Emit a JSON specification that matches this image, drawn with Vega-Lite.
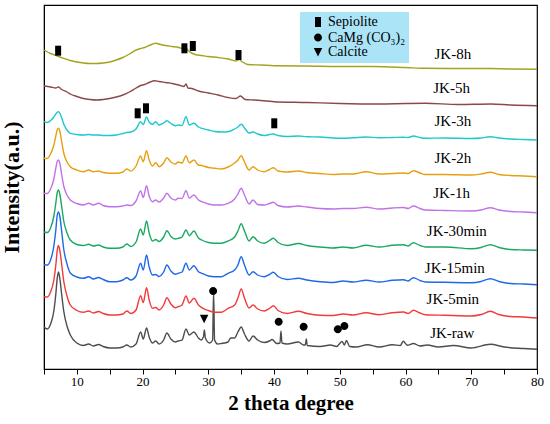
{
"$schema":"https://vega.github.io/schema/vega-lite/v6.json",
"autosize":"none",
"width":493,"height":364,
"padding":{"left":44,"top":5,"right":13,"bottom":55},
"background":"white",
"datasets":{
"traces":[
{"s":"raw","x":5,"y":42},{"s":"raw","x":5.5,"y":40},{"s":"raw","x":6,"y":45},{"s":"raw","x":6.5,"y":58},{"s":"raw","x":6.8,"y":75},{"s":"raw","x":7.0,"y":90},{"s":"raw","x":7.2,"y":97},{"s":"raw","x":7.4,"y":91},{"s":"raw","x":7.7,"y":74},{"s":"raw","x":8.0,"y":58},{"s":"raw","x":8.5,"y":43},{"s":"raw","x":9,"y":34},{"s":"raw","x":10,"y":26},{"s":"raw","x":11,"y":23.5},{"s":"raw","x":11.8,"y":25},{"s":"raw","x":12.5,"y":23},{"s":"raw","x":13.3,"y":24.5},{"s":"raw","x":14,"y":22.5},{"s":"raw","x":15,"y":21},{"s":"raw","x":16,"y":21},{"s":"raw","x":17,"y":22},{"s":"raw","x":17.6,"y":24},{"s":"raw","x":18.2,"y":22},{"s":"raw","x":19,"y":25},{"s":"raw","x":19.7,"y":37},{"s":"raw","x":20.1,"y":30},{"s":"raw","x":20.6,"y":41},{"s":"raw","x":21.0,"y":32},{"s":"raw","x":21.5,"y":26},{"s":"raw","x":22,"y":28},{"s":"raw","x":22.5,"y":25},{"s":"raw","x":23.2,"y":29},{"s":"raw","x":23.7,"y":36},{"s":"raw","x":24.3,"y":30},{"s":"raw","x":25,"y":27},{"s":"raw","x":25.4,"y":28},{"s":"raw","x":26,"y":29},{"s":"raw","x":26.6,"y":40},{"s":"raw","x":27.1,"y":34},{"s":"raw","x":27.8,"y":37},{"s":"raw","x":28.5,"y":31},{"s":"raw","x":28.9,"y":29},{"s":"raw","x":29.25,"y":32},{"s":"raw","x":29.4,"y":39},{"s":"raw","x":29.55,"y":31},{"s":"raw","x":30.2,"y":26},{"s":"raw","x":30.65,"y":29},{"s":"raw","x":30.8,"y":77},{"s":"raw","x":30.95,"y":29},{"s":"raw","x":31.4,"y":25},{"s":"raw","x":32,"y":25.5},{"s":"raw","x":33,"y":27},{"s":"raw","x":33.4,"y":31},{"s":"raw","x":34,"y":31},{"s":"raw","x":34.5,"y":37},{"s":"raw","x":35,"y":42},{"s":"raw","x":35.5,"y":35},{"s":"raw","x":36.2,"y":28},{"s":"raw","x":36.8,"y":33},{"s":"raw","x":37.5,"y":29},{"s":"raw","x":38.5,"y":26.5},{"s":"raw","x":39.3,"y":28},{"s":"raw","x":39.7,"y":29.5},{"s":"raw","x":40.4,"y":25.5},{"s":"raw","x":40.9,"y":26},{"s":"raw","x":41.05,"y":38},{"s":"raw","x":41.2,"y":26},{"s":"raw","x":42,"y":25},{"s":"raw","x":43.7,"y":27},{"s":"raw","x":44.5,"y":24},{"s":"raw","x":44.75,"y":24},{"s":"raw","x":44.9,"y":30},{"s":"raw","x":45.05,"y":23.5},{"s":"raw","x":47,"y":22.5},{"s":"raw","x":48.6,"y":24},{"s":"raw","x":49.5,"y":22.5},{"s":"raw","x":50.35,"y":27.5},{"s":"raw","x":50.7,"y":24},{"s":"raw","x":51.0,"y":28.5},{"s":"raw","x":51.5,"y":22.5},{"s":"raw","x":52.5,"y":22},{"s":"raw","x":54.2,"y":24.3},{"s":"raw","x":56,"y":22},{"s":"raw","x":58,"y":24.3},{"s":"raw","x":59.2,"y":23.5},{"s":"raw","x":59.65,"y":27.7},{"s":"raw","x":60.3,"y":23.7},{"s":"raw","x":61.2,"y":25.5},{"s":"raw","x":62.2,"y":23},{"s":"raw","x":63.3,"y":24},{"s":"raw","x":65,"y":22},{"s":"raw","x":67.3,"y":23.5},{"s":"raw","x":70,"y":21},{"s":"raw","x":72.9,"y":24.7},{"s":"raw","x":75,"y":22},{"s":"raw","x":78,"y":20.5},{"s":"raw","x":80,"y":19.7},

{"s":"5min","x":5,"y":72},{"s":"5min","x":5.5,"y":72},{"s":"5min","x":6,"y":77},{"s":"5min","x":6.5,"y":89},{"s":"5min","x":6.8,"y":104},{"s":"5min","x":7.0,"y":118},{"s":"5min","x":7.2,"y":123.5},{"s":"5min","x":7.4,"y":119},{"s":"5min","x":7.7,"y":104},{"s":"5min","x":8.0,"y":88},{"s":"5min","x":8.5,"y":73},{"s":"5min","x":9,"y":64},{"s":"5min","x":10,"y":58.5},{"s":"5min","x":11,"y":56.7},{"s":"5min","x":11.8,"y":58},{"s":"5min","x":12.5,"y":56},{"s":"5min","x":13.3,"y":57.5},{"s":"5min","x":14,"y":55.5},{"s":"5min","x":15,"y":54},{"s":"5min","x":16,"y":54},{"s":"5min","x":17,"y":55},{"s":"5min","x":17.6,"y":58},{"s":"5min","x":18.2,"y":55.5},{"s":"5min","x":19,"y":59},{"s":"5min","x":19.7,"y":73.3},{"s":"5min","x":20.1,"y":66.5},{"s":"5min","x":20.6,"y":81.3},{"s":"5min","x":21.0,"y":69},{"s":"5min","x":21.5,"y":60.7},{"s":"5min","x":22,"y":61.5},{"s":"5min","x":22.5,"y":59},{"s":"5min","x":23.2,"y":64},{"s":"5min","x":23.7,"y":71.3},{"s":"5min","x":24.3,"y":65},{"s":"5min","x":25,"y":61.3},{"s":"5min","x":25.4,"y":62.3},{"s":"5min","x":26,"y":64},{"s":"5min","x":26.6,"y":73},{"s":"5min","x":27.1,"y":66},{"s":"5min","x":27.8,"y":70.7},{"s":"5min","x":28.5,"y":64},{"s":"5min","x":29,"y":61.3},{"s":"5min","x":30,"y":58.5},{"s":"5min","x":31,"y":56.7},{"s":"5min","x":32,"y":56.7},{"s":"5min","x":33,"y":60.7},{"s":"5min","x":34,"y":64},{"s":"5min","x":34.5,"y":71},{"s":"5min","x":35,"y":80},{"s":"5min","x":35.5,"y":71},{"s":"5min","x":36.2,"y":61},{"s":"5min","x":36.8,"y":64},{"s":"5min","x":37.5,"y":60},{"s":"5min","x":38.5,"y":58},{"s":"5min","x":39.3,"y":60.5},{"s":"5min","x":39.9,"y":63.3},{"s":"5min","x":40.6,"y":58.5},{"s":"5min","x":42,"y":55.5},{"s":"5min","x":43.7,"y":57.7},{"s":"5min","x":45,"y":55.5},{"s":"5min","x":47,"y":53.7},{"s":"5min","x":49,"y":53.5},{"s":"5min","x":50.5,"y":55},{"s":"5min","x":52,"y":54},{"s":"5min","x":54,"y":56.3},{"s":"5min","x":56,"y":54.3},{"s":"5min","x":58,"y":56.3},{"s":"5min","x":59.7,"y":57},{"s":"5min","x":60.4,"y":55.5},{"s":"5min","x":61.2,"y":58.7},{"s":"5min","x":62.2,"y":56},{"s":"5min","x":63,"y":54.3},{"s":"5min","x":66,"y":53.7},{"s":"5min","x":70,"y":53},{"s":"5min","x":71.5,"y":54.5},{"s":"5min","x":72.9,"y":57.7},{"s":"5min","x":74.2,"y":54.5},{"s":"5min","x":76,"y":52.5},{"s":"5min","x":78,"y":52},{"s":"5min","x":80,"y":51},

{"s":"15min","x":5,"y":104},{"s":"15min","x":5.5,"y":104},{"s":"15min","x":6,"y":109},{"s":"15min","x":6.5,"y":123},{"s":"15min","x":6.8,"y":139},{"s":"15min","x":7.0,"y":153},{"s":"15min","x":7.2,"y":157},{"s":"15min","x":7.4,"y":153},{"s":"15min","x":7.7,"y":137},{"s":"15min","x":8.0,"y":120},{"s":"15min","x":8.5,"y":105},{"s":"15min","x":9,"y":96},{"s":"15min","x":10,"y":92},{"s":"15min","x":11,"y":90.7},{"s":"15min","x":11.8,"y":92.3},{"s":"15min","x":12.5,"y":90},{"s":"15min","x":13.3,"y":91.5},{"s":"15min","x":14,"y":89.5},{"s":"15min","x":15,"y":87.3},{"s":"15min","x":16,"y":87.3},{"s":"15min","x":17,"y":89},{"s":"15min","x":17.6,"y":91.3},{"s":"15min","x":18.2,"y":89},{"s":"15min","x":19,"y":93},{"s":"15min","x":19.7,"y":105.7},{"s":"15min","x":20.1,"y":99},{"s":"15min","x":20.6,"y":114},{"s":"15min","x":21.0,"y":102},{"s":"15min","x":21.5,"y":94},{"s":"15min","x":22,"y":94.5},{"s":"15min","x":22.5,"y":92.5},{"s":"15min","x":23.2,"y":97},{"s":"15min","x":23.7,"y":104},{"s":"15min","x":24.3,"y":98},{"s":"15min","x":25,"y":94.7},{"s":"15min","x":25.4,"y":95.7},{"s":"15min","x":26,"y":97},{"s":"15min","x":26.6,"y":105.7},{"s":"15min","x":27.1,"y":99},{"s":"15min","x":27.8,"y":103.3},{"s":"15min","x":28.5,"y":97.3},{"s":"15min","x":29,"y":95.7},{"s":"15min","x":30,"y":93},{"s":"15min","x":31,"y":92.3},{"s":"15min","x":32,"y":92.3},{"s":"15min","x":33,"y":95.7},{"s":"15min","x":34,"y":99},{"s":"15min","x":34.5,"y":104},{"s":"15min","x":35,"y":112.3},{"s":"15min","x":35.5,"y":104},{"s":"15min","x":36.2,"y":94},{"s":"15min","x":36.8,"y":97.3},{"s":"15min","x":37.5,"y":94},{"s":"15min","x":38.5,"y":92.3},{"s":"15min","x":39.3,"y":94.5},{"s":"15min","x":39.9,"y":96.7},{"s":"15min","x":40.6,"y":92.5},{"s":"15min","x":42,"y":89.5},{"s":"15min","x":43.7,"y":90.7},{"s":"15min","x":45,"y":89},{"s":"15min","x":47,"y":87.3},{"s":"15min","x":49,"y":86.5},{"s":"15min","x":50.5,"y":88},{"s":"15min","x":52,"y":87},{"s":"15min","x":54,"y":88.7},{"s":"15min","x":56,"y":87},{"s":"15min","x":58,"y":88.7},{"s":"15min","x":59.7,"y":89.3},{"s":"15min","x":60.4,"y":88},{"s":"15min","x":61.2,"y":91.3},{"s":"15min","x":62.2,"y":88.5},{"s":"15min","x":63,"y":87},{"s":"15min","x":66,"y":86.7},{"s":"15min","x":70,"y":86.3},{"s":"15min","x":71.5,"y":87.5},{"s":"15min","x":72.9,"y":90.3},{"s":"15min","x":74.2,"y":87.5},{"s":"15min","x":76,"y":85.5},{"s":"15min","x":78,"y":85},{"s":"15min","x":80,"y":84.3},

{"s":"30min","x":5,"y":137},{"s":"30min","x":5.5,"y":136.5},{"s":"30min","x":6,"y":141},{"s":"30min","x":6.5,"y":153},{"s":"30min","x":6.8,"y":166},{"s":"30min","x":7.0,"y":176},{"s":"30min","x":7.2,"y":179},{"s":"30min","x":7.4,"y":175},{"s":"30min","x":7.7,"y":162},{"s":"30min","x":8.0,"y":148},{"s":"30min","x":8.5,"y":136},{"s":"30min","x":9,"y":129},{"s":"30min","x":10,"y":124.5},{"s":"30min","x":11,"y":123.5},{"s":"30min","x":11.8,"y":124.7},{"s":"30min","x":12.5,"y":123},{"s":"30min","x":13.3,"y":124},{"s":"30min","x":14,"y":122},{"s":"30min","x":15,"y":120.7},{"s":"30min","x":16,"y":120.7},{"s":"30min","x":17,"y":122},{"s":"30min","x":17.6,"y":125},{"s":"30min","x":18.2,"y":122.5},{"s":"30min","x":19,"y":127},{"s":"30min","x":19.7,"y":140},{"s":"30min","x":20.1,"y":134},{"s":"30min","x":20.6,"y":148},{"s":"30min","x":21.0,"y":136},{"s":"30min","x":21.5,"y":128},{"s":"30min","x":22,"y":129.5},{"s":"30min","x":22.5,"y":127.5},{"s":"30min","x":23.2,"y":132},{"s":"30min","x":23.7,"y":138.3},{"s":"30min","x":24.3,"y":132.5},{"s":"30min","x":25,"y":130},{"s":"30min","x":25.4,"y":130.7},{"s":"30min","x":26,"y":132},{"s":"30min","x":26.6,"y":139},{"s":"30min","x":27.1,"y":133.3},{"s":"30min","x":27.8,"y":138},{"s":"30min","x":28.5,"y":131},{"s":"30min","x":29,"y":129},{"s":"30min","x":30,"y":126.5},{"s":"30min","x":31,"y":125.7},{"s":"30min","x":32,"y":125.7},{"s":"30min","x":33,"y":128},{"s":"30min","x":34,"y":132},{"s":"30min","x":34.5,"y":138},{"s":"30min","x":35,"y":145.3},{"s":"30min","x":35.5,"y":138},{"s":"30min","x":36.2,"y":128},{"s":"30min","x":36.8,"y":132.3},{"s":"30min","x":37.5,"y":128},{"s":"30min","x":38.5,"y":125.7},{"s":"30min","x":39.3,"y":128.5},{"s":"30min","x":39.9,"y":130.7},{"s":"30min","x":40.6,"y":126.5},{"s":"30min","x":42,"y":123.5},{"s":"30min","x":43.7,"y":125.5},{"s":"30min","x":45,"y":123.5},{"s":"30min","x":47,"y":122},{"s":"30min","x":49,"y":121},{"s":"30min","x":50.5,"y":122},{"s":"30min","x":52,"y":121},{"s":"30min","x":54,"y":123.7},{"s":"30min","x":56,"y":122},{"s":"30min","x":58,"y":123.7},{"s":"30min","x":59.7,"y":124.3},{"s":"30min","x":60.4,"y":123},{"s":"30min","x":61.2,"y":126.3},{"s":"30min","x":62.2,"y":123.5},{"s":"30min","x":63,"y":122},{"s":"30min","x":66,"y":122},{"s":"30min","x":70,"y":120.3},{"s":"30min","x":71.5,"y":121.5},{"s":"30min","x":72.9,"y":124.3},{"s":"30min","x":74.2,"y":121.5},{"s":"30min","x":76,"y":119.5},{"s":"30min","x":78,"y":119},{"s":"30min","x":80,"y":118.7},

{"s":"1h","x":5,"y":175.7},{"s":"1h","x":5.5,"y":175.5},{"s":"1h","x":6,"y":180},{"s":"1h","x":6.5,"y":190},{"s":"1h","x":6.8,"y":201},{"s":"1h","x":7.0,"y":207.5},{"s":"1h","x":7.2,"y":209},{"s":"1h","x":7.4,"y":206},{"s":"1h","x":7.7,"y":194},{"s":"1h","x":8.0,"y":183},{"s":"1h","x":8.5,"y":174},{"s":"1h","x":9,"y":169},{"s":"1h","x":10,"y":165.5},{"s":"1h","x":11,"y":164},{"s":"1h","x":11.8,"y":165.7},{"s":"1h","x":12.5,"y":164},{"s":"1h","x":13.3,"y":165.7},{"s":"1h","x":14,"y":163.5},{"s":"1h","x":15,"y":162.3},{"s":"1h","x":16,"y":162.3},{"s":"1h","x":17,"y":163},{"s":"1h","x":17.6,"y":164},{"s":"1h","x":18.2,"y":163.5},{"s":"1h","x":19,"y":168},{"s":"1h","x":19.7,"y":178},{"s":"1h","x":20.1,"y":171.5},{"s":"1h","x":20.6,"y":183.3},{"s":"1h","x":21.0,"y":173},{"s":"1h","x":21.5,"y":167.3},{"s":"1h","x":22,"y":169},{"s":"1h","x":22.5,"y":167},{"s":"1h","x":23.2,"y":171},{"s":"1h","x":23.7,"y":175.7},{"s":"1h","x":24.3,"y":171},{"s":"1h","x":25,"y":169},{"s":"1h","x":25.4,"y":170.7},{"s":"1h","x":26,"y":170.5},{"s":"1h","x":26.6,"y":178.3},{"s":"1h","x":27.1,"y":171},{"s":"1h","x":27.8,"y":174},{"s":"1h","x":28.5,"y":169},{"s":"1h","x":29,"y":167.3},{"s":"1h","x":30,"y":165},{"s":"1h","x":31,"y":164},{"s":"1h","x":32,"y":164},{"s":"1h","x":33,"y":165.7},{"s":"1h","x":34,"y":170},{"s":"1h","x":34.5,"y":175},{"s":"1h","x":35,"y":180.7},{"s":"1h","x":35.5,"y":174},{"s":"1h","x":36.2,"y":165},{"s":"1h","x":36.8,"y":169},{"s":"1h","x":37.5,"y":164.5},{"s":"1h","x":38.5,"y":164},{"s":"1h","x":39.3,"y":165.5},{"s":"1h","x":39.9,"y":166.7},{"s":"1h","x":40.6,"y":163.5},{"s":"1h","x":42,"y":162},{"s":"1h","x":43.7,"y":163},{"s":"1h","x":45,"y":162},{"s":"1h","x":47,"y":160.5},{"s":"1h","x":49,"y":160},{"s":"1h","x":50.5,"y":160.5},{"s":"1h","x":52,"y":160.5},{"s":"1h","x":54,"y":161.7},{"s":"1h","x":56,"y":160},{"s":"1h","x":58,"y":161},{"s":"1h","x":59.7,"y":161.5},{"s":"1h","x":60.4,"y":160.5},{"s":"1h","x":61.2,"y":163},{"s":"1h","x":62.2,"y":160.5},{"s":"1h","x":63,"y":159},{"s":"1h","x":66,"y":158.5},{"s":"1h","x":70,"y":158},{"s":"1h","x":71.5,"y":159},{"s":"1h","x":72.9,"y":161.3},{"s":"1h","x":74.2,"y":159},{"s":"1h","x":76,"y":157.5},{"s":"1h","x":78,"y":157},{"s":"1h","x":80,"y":156.3},

{"s":"2h","x":5,"y":210.7},{"s":"2h","x":5.5,"y":210.5},{"s":"2h","x":6,"y":215},{"s":"2h","x":6.5,"y":224},{"s":"2h","x":6.8,"y":233},{"s":"2h","x":7.0,"y":239},{"s":"2h","x":7.2,"y":240.7},{"s":"2h","x":7.4,"y":238},{"s":"2h","x":7.7,"y":227},{"s":"2h","x":8.0,"y":216},{"s":"2h","x":8.5,"y":207},{"s":"2h","x":9,"y":202.3},{"s":"2h","x":10,"y":199},{"s":"2h","x":11,"y":197.3},{"s":"2h","x":11.8,"y":199},{"s":"2h","x":12.5,"y":197.3},{"s":"2h","x":13.3,"y":198},{"s":"2h","x":14,"y":196.5},{"s":"2h","x":15,"y":195.7},{"s":"2h","x":16,"y":195.7},{"s":"2h","x":17,"y":197},{"s":"2h","x":17.6,"y":200},{"s":"2h","x":18.2,"y":198},{"s":"2h","x":19,"y":203},{"s":"2h","x":19.7,"y":213},{"s":"2h","x":20.1,"y":207.3},{"s":"2h","x":20.6,"y":218.3},{"s":"2h","x":21.0,"y":209},{"s":"2h","x":21.5,"y":203},{"s":"2h","x":22,"y":206.3},{"s":"2h","x":22.5,"y":202.3},{"s":"2h","x":23.2,"y":206},{"s":"2h","x":23.7,"y":211.3},{"s":"2h","x":24.3,"y":207},{"s":"2h","x":25,"y":205},{"s":"2h","x":25.4,"y":207},{"s":"2h","x":26,"y":206},{"s":"2h","x":26.6,"y":213},{"s":"2h","x":27.1,"y":206.3},{"s":"2h","x":27.8,"y":209},{"s":"2h","x":28.5,"y":204},{"s":"2h","x":29,"y":203.5},{"s":"2h","x":30,"y":201.5},{"s":"2h","x":31,"y":200.7},{"s":"2h","x":32,"y":200},{"s":"2h","x":33,"y":202},{"s":"2h","x":34,"y":206},{"s":"2h","x":34.5,"y":209},{"s":"2h","x":35,"y":213.3},{"s":"2h","x":35.5,"y":207},{"s":"2h","x":36.2,"y":199},{"s":"2h","x":36.8,"y":202.3},{"s":"2h","x":37.5,"y":199},{"s":"2h","x":38.5,"y":197.3},{"s":"2h","x":39.3,"y":199.5},{"s":"2h","x":39.9,"y":201.3},{"s":"2h","x":40.6,"y":198},{"s":"2h","x":42,"y":197},{"s":"2h","x":43.7,"y":198},{"s":"2h","x":45,"y":196.5},{"s":"2h","x":47,"y":195.5},{"s":"2h","x":49,"y":194.5},{"s":"2h","x":50.5,"y":195},{"s":"2h","x":52,"y":195},{"s":"2h","x":54,"y":197.3},{"s":"2h","x":56,"y":195},{"s":"2h","x":58,"y":195.5},{"s":"2h","x":59.7,"y":196},{"s":"2h","x":60.4,"y":195.5},{"s":"2h","x":61.2,"y":198.3},{"s":"2h","x":62.2,"y":196},{"s":"2h","x":63,"y":194.5},{"s":"2h","x":66,"y":194.5},{"s":"2h","x":70,"y":194},{"s":"2h","x":71.5,"y":195},{"s":"2h","x":72.9,"y":196.7},{"s":"2h","x":74.2,"y":194.5},{"s":"2h","x":76,"y":193.5},{"s":"2h","x":78,"y":193},{"s":"2h","x":80,"y":192.3},

{"s":"3h","x":5,"y":247.3},{"s":"3h","x":5.5,"y":246.5},{"s":"3h","x":6,"y":248.5},{"s":"3h","x":6.5,"y":252},{"s":"3h","x":6.8,"y":255},{"s":"3h","x":7.0,"y":256.7},{"s":"3h","x":7.2,"y":257.3},{"s":"3h","x":7.4,"y":256},{"s":"3h","x":7.7,"y":251},{"s":"3h","x":8.0,"y":245},{"s":"3h","x":8.5,"y":239},{"s":"3h","x":9,"y":235.7},{"s":"3h","x":10,"y":234.5},{"s":"3h","x":11,"y":234},{"s":"3h","x":11.8,"y":234.5},{"s":"3h","x":12.5,"y":234},{"s":"3h","x":13.3,"y":234},{"s":"3h","x":14,"y":233.5},{"s":"3h","x":15,"y":233.5},{"s":"3h","x":16,"y":234},{"s":"3h","x":17,"y":235.5},{"s":"3h","x":17.6,"y":236.5},{"s":"3h","x":18.2,"y":237},{"s":"3h","x":19,"y":240},{"s":"3h","x":19.7,"y":247.3},{"s":"3h","x":20.1,"y":244.5},{"s":"3h","x":20.6,"y":252},{"s":"3h","x":21.0,"y":247},{"s":"3h","x":21.5,"y":244.7},{"s":"3h","x":22,"y":247.3},{"s":"3h","x":22.5,"y":244},{"s":"3h","x":23.2,"y":246},{"s":"3h","x":23.7,"y":248.3},{"s":"3h","x":24.3,"y":245.5},{"s":"3h","x":25,"y":243.3},{"s":"3h","x":25.4,"y":244},{"s":"3h","x":26,"y":243.5},{"s":"3h","x":26.6,"y":252.3},{"s":"3h","x":27.1,"y":244},{"s":"3h","x":27.8,"y":245.7},{"s":"3h","x":28.5,"y":242},{"s":"3h","x":29,"y":240.7},{"s":"3h","x":30,"y":239},{"s":"3h","x":31,"y":237.5},{"s":"3h","x":32,"y":237},{"s":"3h","x":33,"y":237.3},{"s":"3h","x":34,"y":240},{"s":"3h","x":34.5,"y":242},{"s":"3h","x":35,"y":244.7},{"s":"3h","x":35.5,"y":241},{"s":"3h","x":36.2,"y":236},{"s":"3h","x":36.8,"y":237},{"s":"3h","x":37.5,"y":235},{"s":"3h","x":38.5,"y":233.5},{"s":"3h","x":39.3,"y":234.5},{"s":"3h","x":39.9,"y":235},{"s":"3h","x":40.6,"y":233.5},{"s":"3h","x":42,"y":232.5},{"s":"3h","x":43.7,"y":233},{"s":"3h","x":45,"y":232.3},{"s":"3h","x":47,"y":232},{"s":"3h","x":49,"y":231},{"s":"3h","x":50.5,"y":230.7},{"s":"3h","x":52,"y":231.2},{"s":"3h","x":54,"y":232},{"s":"3h","x":56,"y":231.3},{"s":"3h","x":58,"y":231.5},{"s":"3h","x":59.7,"y":231.7},{"s":"3h","x":60.4,"y":231.5},{"s":"3h","x":61.2,"y":233},{"s":"3h","x":62.2,"y":231.5},{"s":"3h","x":63,"y":230.7},{"s":"3h","x":66,"y":231},{"s":"3h","x":70,"y":230.5},{"s":"3h","x":71.5,"y":231},{"s":"3h","x":72.9,"y":232.3},{"s":"3h","x":74.2,"y":231},{"s":"3h","x":76,"y":230},{"s":"3h","x":78,"y":229.5},{"s":"3h","x":80,"y":229},

{"s":"5h","x":5,"y":283},{"s":"5h","x":6,"y":282},{"s":"5h","x":6.8,"y":281},{"s":"5h","x":7.2,"y":282},{"s":"5h","x":7.7,"y":279.5},{"s":"5h","x":8.5,"y":277},{"s":"5h","x":9,"y":275},{"s":"5h","x":10,"y":272.5},{"s":"5h","x":11,"y":270.5},{"s":"5h","x":12,"y":269.5},{"s":"5h","x":13,"y":269},{"s":"5h","x":14,"y":269.5},{"s":"5h","x":15,"y":270.5},{"s":"5h","x":16,"y":272},{"s":"5h","x":17,"y":274},{"s":"5h","x":18,"y":277},{"s":"5h","x":19,"y":281},{"s":"5h","x":19.7,"y":283.5},{"s":"5h","x":20.3,"y":284.5},{"s":"5h","x":21,"y":286.5},{"s":"5h","x":21.8,"y":288.3},{"s":"5h","x":22.5,"y":287.5},{"s":"5h","x":23.5,"y":286.5},{"s":"5h","x":24.5,"y":285.5},{"s":"5h","x":25.5,"y":284},{"s":"5h","x":26.3,"y":282.5},{"s":"5h","x":26.6,"y":285},{"s":"5h","x":26.9,"y":281},{"s":"5h","x":27.5,"y":280.5},{"s":"5h","x":28.5,"y":278},{"s":"5h","x":30,"y":276},{"s":"5h","x":31.5,"y":274},{"s":"5h","x":33,"y":271.5},{"s":"5h","x":34.2,"y":270.5},{"s":"5h","x":34.9,"y":273},{"s":"5h","x":35.6,"y":269.5},{"s":"5h","x":37,"y":269},{"s":"5h","x":40,"y":267.3},{"s":"5h","x":45,"y":266.5},{"s":"5h","x":50,"y":265.5},{"s":"5h","x":56,"y":265},{"s":"5h","x":60,"y":265.5},{"s":"5h","x":63,"y":265.7},{"s":"5h","x":68,"y":264.5},{"s":"5h","x":73,"y":265},{"s":"5h","x":76,"y":264},{"s":"5h","x":80,"y":263.3},

{"s":"8h","x":5,"y":319},{"s":"8h","x":6,"y":315.5},{"s":"8h","x":7,"y":313},{"s":"8h","x":8,"y":310.7},{"s":"8h","x":9,"y":308.5},{"s":"8h","x":10,"y":307},{"s":"8h","x":11,"y":306},{"s":"8h","x":12,"y":305.5},{"s":"8h","x":13,"y":305.5},{"s":"8h","x":14,"y":306},{"s":"8h","x":15,"y":307},{"s":"8h","x":16,"y":309},{"s":"8h","x":17,"y":311.5},{"s":"8h","x":18,"y":315},{"s":"8h","x":19,"y":319},{"s":"8h","x":19.7,"y":320.5},{"s":"8h","x":20.3,"y":321.5},{"s":"8h","x":21,"y":323.5},{"s":"8h","x":22,"y":325.7},{"s":"8h","x":22.7,"y":324.5},{"s":"8h","x":23.5,"y":323.5},{"s":"8h","x":24.5,"y":322.5},{"s":"8h","x":25.5,"y":321.5},{"s":"8h","x":26.3,"y":320},{"s":"8h","x":26.6,"y":321},{"s":"8h","x":27,"y":318},{"s":"8h","x":28,"y":314.5},{"s":"8h","x":29,"y":313.5},{"s":"8h","x":30,"y":312.5},{"s":"8h","x":31.5,"y":311.5},{"s":"8h","x":33,"y":310},{"s":"8h","x":34.2,"y":308},{"s":"8h","x":34.7,"y":309.5},{"s":"8h","x":35.2,"y":307},{"s":"8h","x":36,"y":304.5},{"s":"8h","x":38,"y":304},{"s":"8h","x":40,"y":303.3},{"s":"8h","x":45,"y":303},{"s":"8h","x":50,"y":302.5},{"s":"8h","x":55,"y":302.5},{"s":"8h","x":60,"y":301.5},{"s":"8h","x":63,"y":300.7},{"s":"8h","x":68,"y":300.5},{"s":"8h","x":73,"y":300.5},{"s":"8h","x":76,"y":300},{"s":"8h","x":80,"y":299.7}
],
"phases":[
{"phase":"Sepiolite","x":7.15,"y":318.3},{"phase":"Sepiolite","x":26.36,"y":320.7},{"phase":"Sepiolite","x":27.64,"y":323},{"phase":"Sepiolite","x":34.59,"y":314},{"phase":"Sepiolite","x":19.25,"y":255.7},{"phase":"Sepiolite","x":20.52,"y":260.7},{"phase":"Sepiolite","x":40.03,"y":245.7},
{"phase":"CaMg (CO₃)₂","x":30.73,"y":78},{"phase":"CaMg (CO₃)₂","x":40.7,"y":47.3},{"phase":"CaMg (CO₃)₂","x":44.5,"y":42.3},{"phase":"CaMg (CO₃)₂","x":49.7,"y":39.7},{"phase":"CaMg (CO₃)₂","x":50.7,"y":43},
{"phase":"Calcite","x":29.36,"y":50.3}
],
"labels":[
{"t":"JK-8h","x":67.2,"y":315},{"t":"JK-5h","x":67.0,"y":280.7},{"t":"JK-3h","x":67.2,"y":248},{"t":"JK-2h","x":67.2,"y":210.7},{"t":"JK-1h","x":67.0,"y":175.7},{"t":"JK-30min","x":67.8,"y":138.3},{"t":"JK-15min","x":67.5,"y":101.3},{"t":"JK-5min","x":67.2,"y":69.7},{"t":"JK-raw","x":67.1,"y":35.7}
]
},
"encoding":{
"x":{"field":"x","type":"quantitative","scale":{"domain":[5,80],"nice":false,"zero":false},
"axis":{"title":"2 theta degree","values":[5,10,15,20,25,30,35,40,45,50,55,60,65,70,75,80],"labelExpr":"datum.value % 10 === 0 ? datum.label : ''","labelFlush":false,"grid":false,"tickSize":5,"tickColor":"black","domainColor":"black","labelFont":"Liberation Serif","labelFontSize":13,"labelColor":"black","labelPadding":1,"titleFont":"Liberation Serif","titleFontSize":21,"titleFontWeight":"bold","titleColor":"black","titlePadding":4}},
"y":{"field":"y","type":"quantitative","scale":{"domain":[0,364],"nice":false,"zero":false},
"axis":{"title":"Intensity(a.u.)","ticks":false,"labels":false,"grid":false,"domainColor":"black","titleFont":"Liberation Serif","titleFontSize":22,"titleFontWeight":"bold","titleColor":"black","titlePadding":21}}
},
"layer":[
{"data":{"name":"traces"},"mark":{"type":"line","strokeWidth":1.4,"interpolate":"monotone"},
"encoding":{"color":{"field":"s","type":"nominal","legend":null,"scale":{"domain":["8h","5h","3h","2h","1h","30min","15min","5min","raw"],"range":["#a3a31f","#8b4848","#1dc9cc","#e6a00f","#c073e6","#1aa860","#1f69e6","#f23a3a","#4d4d4d"]}},"detail":{"field":"s"}}},
{"data":{"name":"phases"},"mark":{"type":"point","filled":true,"color":"black","opacity":1,"size":100},
"encoding":{
"shape":{"field":"phase","type":"nominal","scale":{"domain":["Sepiolite","CaMg (CO₃)₂","Calcite"],"range":["M-0.6,-1L0.6,-1L0.6,1L-0.6,1Z","M0.8,0A0.8,0.8,0,1,1,-0.8,0A0.8,0.8,0,1,1,0.8,0Z","M-0.85,-0.8L0.85,-0.8L0,0.9Z"]},
"legend":{"title":null,"orient":"none","legendX":256,"legendY":7,"fillColor":"#abe3f7","padding":3,"labelFont":"Liberation Serif","labelFontSize":14,"labelColor":"black","symbolOffset":8,"symbolSize":100,"rowPadding":0.5,"labelOffset":3,"symbolFillColor":"black","symbolStrokeColor":"black","labelExpr":"datum.label == 'Sepiolite' || datum.label == 'Calcite' ? datum.label : '\u00a0' + datum.label"}}
}},
{"data":{"name":"labels"},"mark":{"type":"text","font":"Liberation Serif","fontSize":15,"color":"black","align":"center","baseline":"middle"},
"encoding":{"text":{"field":"t"}}}
],
"config":{"view":{"stroke":"black","strokeWidth":1.2}}
}
